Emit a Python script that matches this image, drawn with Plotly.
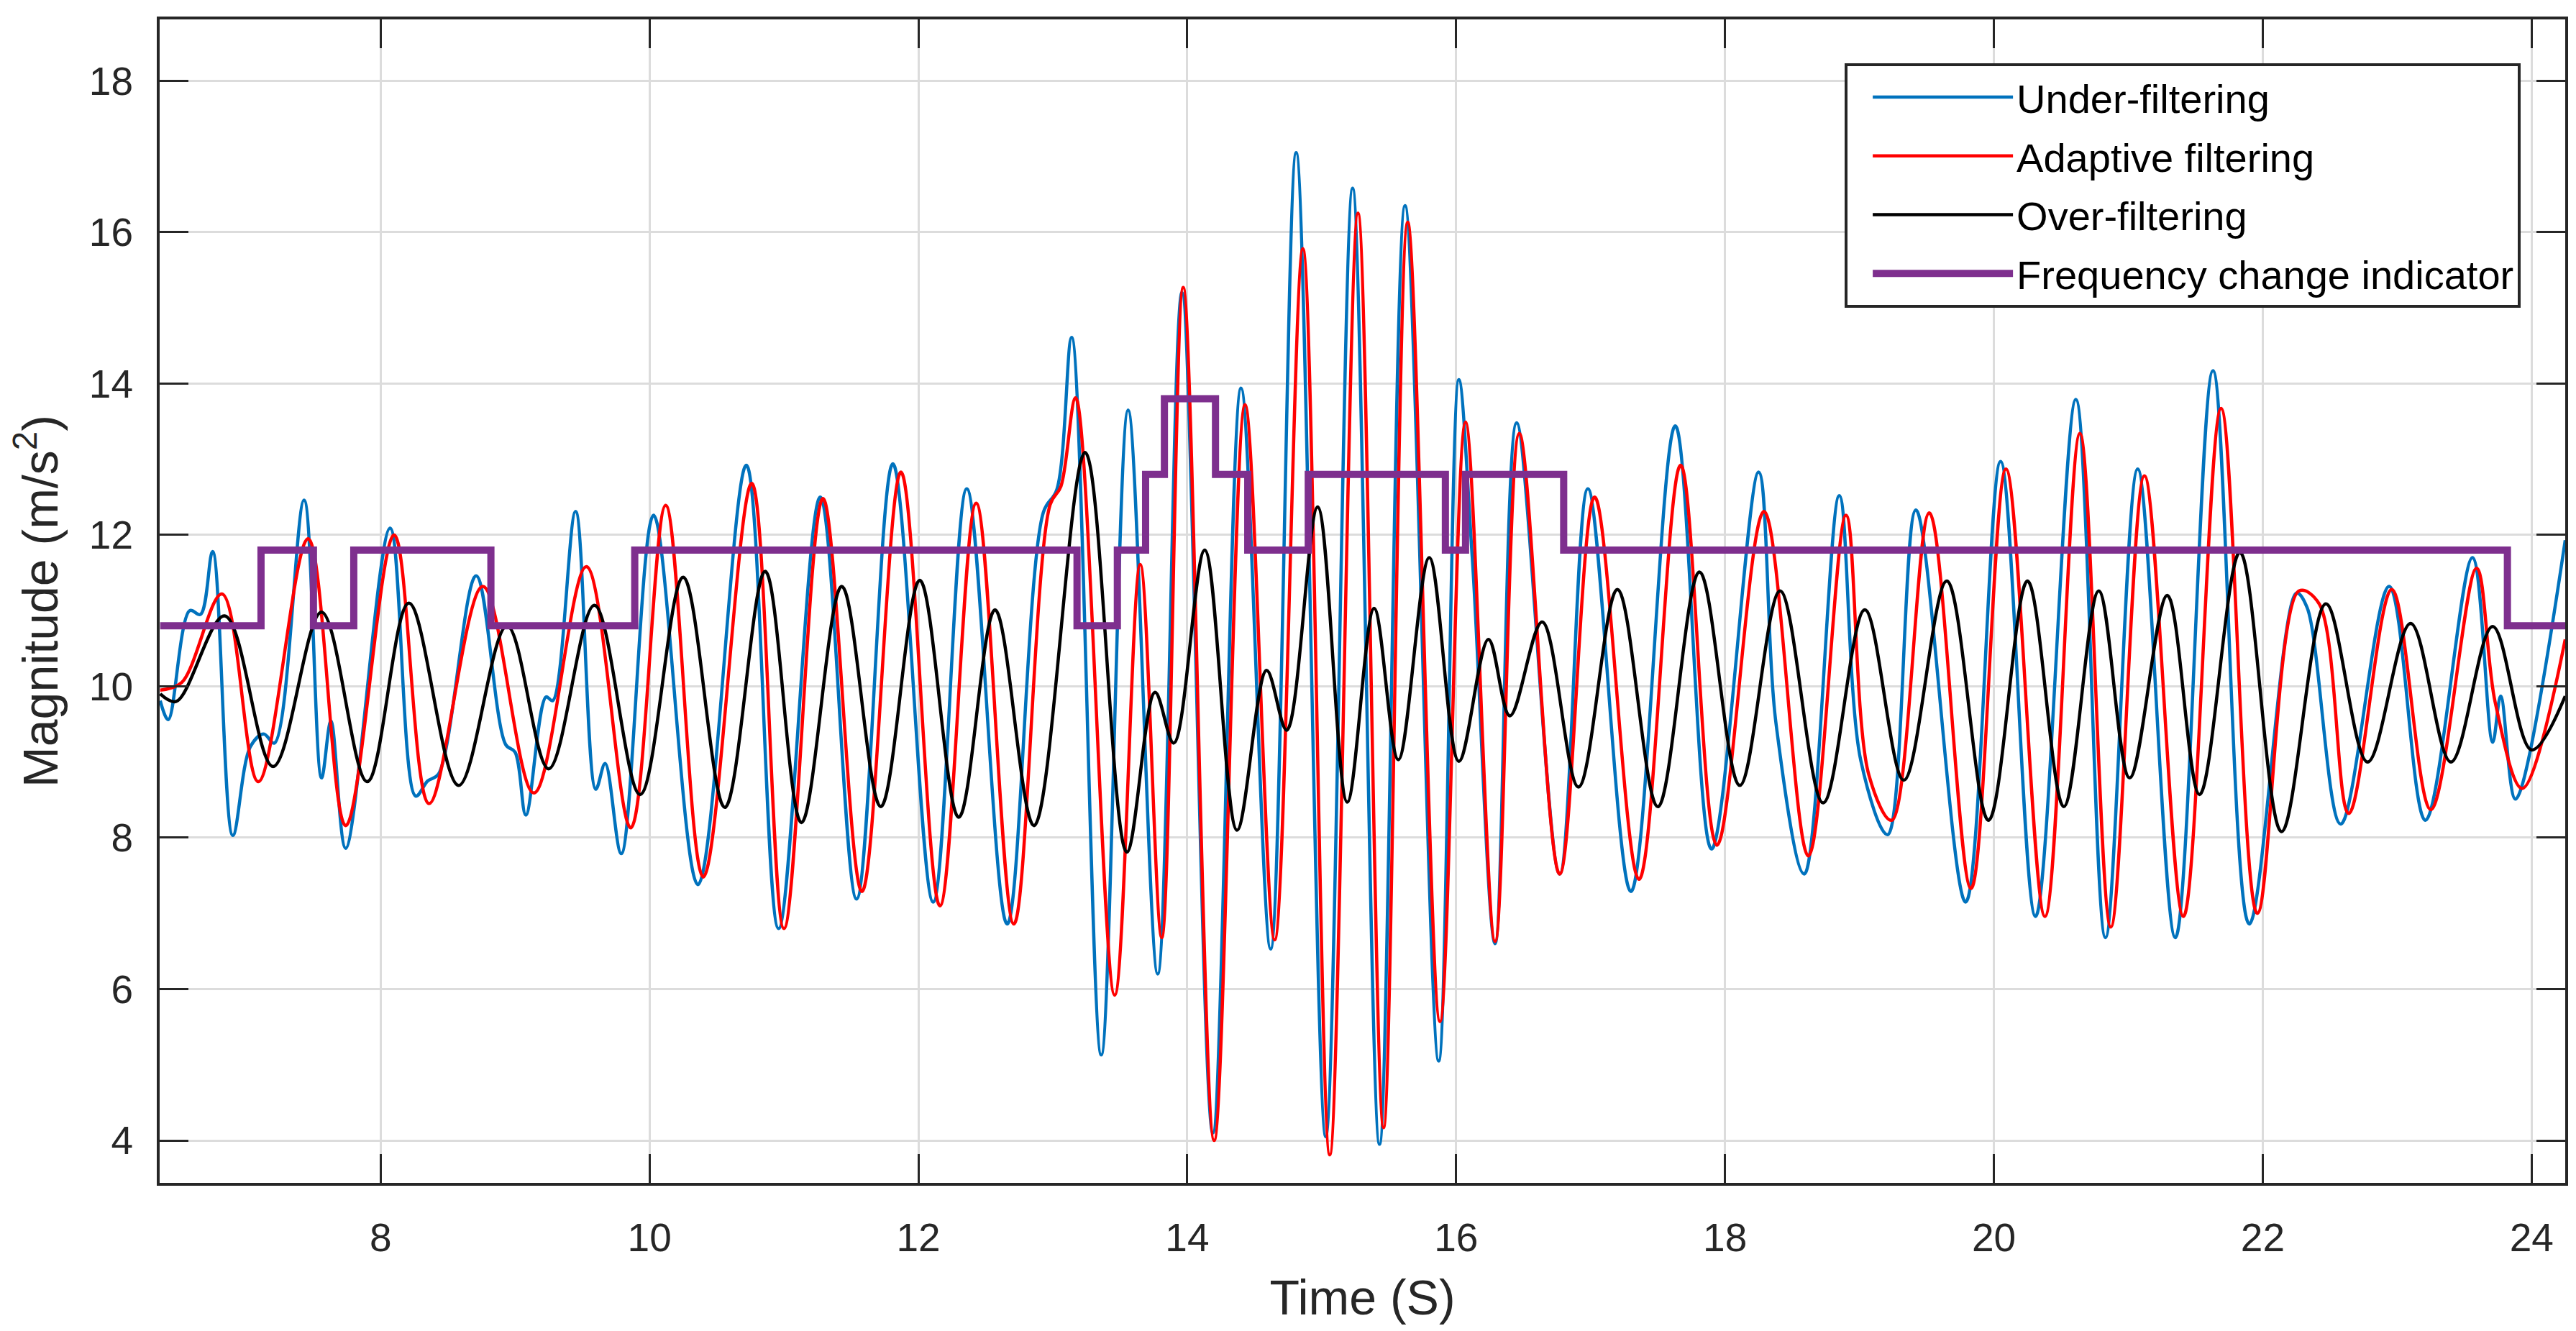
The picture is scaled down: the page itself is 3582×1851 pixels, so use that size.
import plotly.graph_objects as go

# values (peaks, troughs and kinks of each curve)
under_t = [6.36, 6.42, 6.58, 6.66, 6.75, 6.90, 7.03, 7.13, 7.21, 7.43, 7.56, 7.63, 7.74,
           8.07, 8.26, 8.35, 8.43, 8.71, 8.93, 9.00, 9.08, 9.23, 9.28, 9.45, 9.60, 9.67,
           9.79, 10.03, 10.36, 10.72, 10.96, 11.27, 11.54, 11.81, 12.11, 12.36, 12.66,
           12.93, 13.03, 13.14, 13.36, 13.56, 13.78, 13.96, 14.19, 14.40, 14.62, 14.81,
           15.03, 15.23, 15.43, 15.62, 15.87, 16.02, 16.12, 16.29, 16.45, 16.77, 16.98,
           17.30, 17.63, 17.90, 18.25, 18.38, 18.59, 18.85, 19.01, 19.21, 19.42, 19.79,
           20.05, 20.31, 20.61, 20.83, 21.07, 21.35, 21.63, 21.90, 22.25, 22.33, 22.58,
           22.94, 23.21, 23.56, 23.71, 23.77, 23.88, 24.25]
under_v = [9.81, 9.56, 11.00, 10.95, 11.78, 8.03, 9.20, 9.37, 9.25, 12.46, 8.79, 9.54, 7.86,
           12.09, 8.55, 8.75, 8.84, 11.46, 9.23, 9.13, 8.30, 9.86, 9.81, 12.31, 8.64, 8.98,
           7.79, 12.26, 7.38, 12.92, 6.80, 12.50, 7.19, 12.94, 7.15, 12.61, 6.86,
           12.30, 12.60, 14.61, 5.13, 13.65, 6.20, 15.20, 4.10, 13.94, 6.53, 17.05,
           4.05, 16.58, 3.95, 16.35, 5.05, 14.05, 11.70, 6.60, 13.48, 7.52, 12.61,
           7.29, 13.44, 7.85, 12.83, 9.50, 7.52, 12.52, 9.02, 8.04, 12.33, 7.15,
           12.97, 6.96, 13.79, 6.68, 12.87, 6.68, 14.17, 6.86, 11.23, 11.04, 8.18,
           11.32, 8.23, 11.70, 9.26, 9.87, 8.51, 11.93]

adaptive_t = [6.36, 6.52, 6.82, 7.09, 7.46, 7.74, 8.10, 8.36, 8.76, 9.14, 9.53, 9.86, 10.12,
              10.40, 10.76, 11.00, 11.29, 11.58, 11.87, 12.16, 12.43, 12.71, 12.98, 13.06,
              13.17, 13.46, 13.65, 13.81, 13.97, 14.20, 14.43, 14.65, 14.86, 15.06, 15.27,
              15.46, 15.64, 15.88, 16.07, 16.29, 16.47, 16.77, 17.03, 17.36, 17.67, 17.94,
              18.29, 18.62, 18.90, 19.07, 19.24, 19.52, 19.83, 20.09, 20.38, 20.64, 20.87,
              21.12, 21.41, 21.69, 21.96, 22.27, 22.42, 22.64, 22.96, 23.25, 23.59, 23.73,
              23.93, 24.25]
adaptive_v = [9.95, 10.05, 11.22, 8.74, 11.95, 8.16, 12.00, 8.45, 11.32, 8.59, 11.58, 8.13, 12.39,
              7.48, 12.68, 6.80, 12.48, 7.29, 12.83, 7.10, 12.42, 6.86, 12.40, 12.64,
              13.81, 5.92, 11.61, 6.68, 15.27, 4.00, 13.72, 6.65, 15.78, 3.81, 16.25,
              4.17, 16.13, 5.57, 13.49, 6.63, 13.34, 7.52, 12.50, 7.45, 12.92, 7.90,
              12.31, 7.76, 12.26, 8.83, 8.23, 12.29, 7.33, 12.87, 6.96, 13.34, 6.82,
              12.78, 6.96, 13.67, 7.00, 11.26, 11.09, 8.32, 11.28, 8.37, 11.56, 9.78,
              8.65, 10.62]

over_t = [6.36, 6.48, 6.84, 7.20, 7.56, 7.90, 8.21, 8.58, 8.94, 9.25, 9.59, 9.93, 10.25,
          10.56, 10.86, 11.13, 11.43, 11.72, 12.01, 12.30, 12.57, 12.86, 13.24, 13.55,
          13.76, 13.90, 14.13, 14.37, 14.59, 14.74, 14.97, 15.19, 15.39, 15.57, 15.80,
          16.02, 16.24, 16.40, 16.64, 16.91, 17.20, 17.50, 17.81, 18.11, 18.41, 18.73,
          19.04, 19.33, 19.65, 19.96, 20.25, 20.52, 20.78, 21.01, 21.29, 21.53, 21.83,
          22.14, 22.47, 22.78, 23.10, 23.40, 23.71, 24.00, 24.25]
over_v = [9.90, 9.80, 10.93, 8.94, 10.98, 8.74, 11.10, 8.69, 10.80, 8.91, 11.07, 8.57, 11.44,
          8.40, 11.52, 8.20, 11.32, 8.41, 11.40, 8.27, 11.01, 8.16, 13.09, 7.81,
          9.92, 9.25, 11.80, 8.10, 10.21, 9.42, 12.37, 8.47, 11.03, 9.03, 11.70,
          9.01, 10.62, 9.61, 10.85, 8.67, 11.28, 8.41, 11.51, 8.69, 11.26, 8.46,
          11.01, 8.76, 11.39, 8.23, 11.39, 8.41, 11.26, 8.79, 11.20, 8.57, 11.77,
          8.08, 11.09, 9.00, 10.83, 9.00, 10.79, 9.16, 9.87]

indicator_t = [6.36, 7.11, 7.50, 7.80, 8.82, 9.89, 13.18, 13.48, 13.69, 13.83, 14.21,
               14.45, 14.90, 15.92, 16.07, 16.80, 23.82, 24.25]
indicator_v = [10.8, 11.8, 10.8, 11.8, 10.8, 11.8, 10.8, 11.8, 12.8, 13.8, 12.8,
               11.8, 12.8, 11.8, 12.8, 11.8, 10.8, 10.8]

x_ticks = [8, 10, 12, 14, 16, 18, 20, 22, 24]
y_ticks = [4, 6, 8, 10, 12, 14, 16, 18]

FONT = "Liberation Sans, Arial, sans-serif"
INK = "#262626"

fig = go.Figure()

fig.add_trace(go.Scatter(x=under_t, y=under_v, name="Under-filtering", mode="lines",
                         legendgroup="a",
                         line=dict(color="#0072BD", width=4.5, shape="spline", smoothing=1.0)))
fig.add_trace(go.Scatter(x=adaptive_t, y=adaptive_v, name="Adaptive filtering", mode="lines",
                         legendgroup="b",
                         line=dict(color="#FF0000", width=4.5, shape="spline", smoothing=1.0)))
fig.add_trace(go.Scatter(x=over_t, y=over_v, name="Over-filtering", mode="lines",
                         legendgroup="c",
                         line=dict(color="#000000", width=4.5, shape="spline", smoothing=1.0)))
fig.add_trace(go.Scatter(x=indicator_t, y=indicator_v, name="Frequency change indicator",
                         mode="lines", legendgroup="d",
                         line=dict(color="#7E2F8E", width=10, shape="hv")))

axis_common = dict(
    showline=True, linecolor=INK, linewidth=4, mirror="allticks",
    ticks="inside", ticklen=40, tickwidth=3, tickcolor=INK,
    showgrid=True, gridcolor="#dcdcdc", gridwidth=2.5, zeroline=False,
    tickfont=dict(family=FONT, size=55, color=INK),
)

fig.update_layout(
    width=3582, height=1851,
    margin=dict(l=214, r=23, t=19, b=214),
    plot_bgcolor="white", paper_bgcolor="white",
    font=dict(family=FONT, color=INK),
    xaxis=dict(range=[6.356, 24.25], tickvals=x_ticks, ticklabelstandoff=25,
               title=dict(text="Time (S)", font=dict(family=FONT, size=68, color=INK), standoff=30),
               **axis_common),
    yaxis=dict(range=[3.44, 18.81], tickvals=y_ticks, ticklabelstandoff=22,
               title=dict(text="Magnitude (m/s<sup>2</sup>)", font=dict(family=FONT, size=68, color=INK),
                          standoff=25),
               **axis_common),
    legend=dict(x=0.9815, y=0.9623, xanchor="right", yanchor="top",
                bgcolor="white", bordercolor=INK, borderwidth=4,
                font=dict(family=FONT, size=56, color="#000000"),
                itemwidth=195, indentation=30,
                traceorder="grouped", tracegroupgap=6),
    showlegend=True,
)

fig.write_html("out.html")
